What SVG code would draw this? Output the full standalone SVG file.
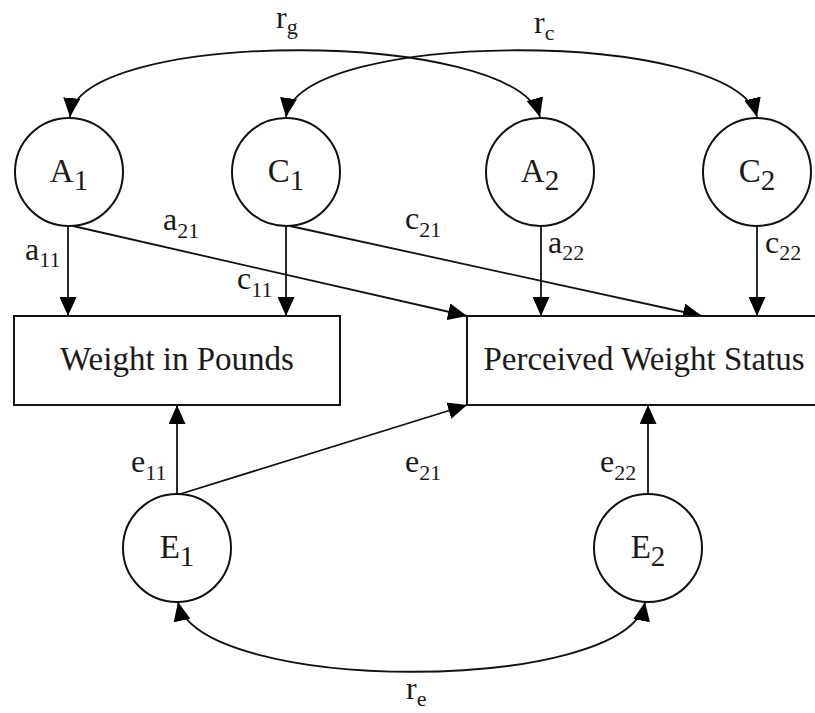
<svg xmlns="http://www.w3.org/2000/svg" width="815" height="713" viewBox="0 0 815 713">
<style>
  .n { fill: #fff; stroke: #111; stroke-width: 2; }
  .c { fill: none; stroke: #111; stroke-width: 1.8; }
  .t { font-family: "Liberation Serif", "Times New Roman", serif; fill: #1a1a1a; }
  .big { font-size: 33px; }
  .lab { font-size: 32px; }
  .sub { font-size: 22px; }
  .csub { font-size: 29px; }
</style>
<defs>
  <marker id="arr" markerWidth="19" markerHeight="17" refX="19" refY="8.5" orient="auto-start-reverse" markerUnits="userSpaceOnUse">
    <path d="M0,0 L19,8.5 L0,17 z" fill="#000"/>
  </marker>
</defs>
<rect width="815" height="713" fill="#fff"/>

<g id="connectors">
  <path class="c" d="M 70 117 C 78 28, 515 28, 540 117" marker-start="url(#arr)" marker-end="url(#arr)"/>
  <path class="c" d="M 286 117 C 298 28, 735 28, 757 117" marker-start="url(#arr)" marker-end="url(#arr)"/>
  <line class="c" x1="68" y1="226" x2="68" y2="316" marker-end="url(#arr)"/>
  <line class="c" x1="286" y1="226" x2="286" y2="316" marker-end="url(#arr)"/>
  <line class="c" x1="73" y1="226" x2="467" y2="316" marker-end="url(#arr)"/>
  <line class="c" x1="290" y1="226" x2="702" y2="316" marker-end="url(#arr)"/>
  <line class="c" x1="541" y1="226" x2="541" y2="316" marker-end="url(#arr)"/>
  <line class="c" x1="757" y1="226" x2="757" y2="316" marker-end="url(#arr)"/>
  <line class="c" x1="177" y1="495" x2="177" y2="405" marker-end="url(#arr)"/>
  <line class="c" x1="177" y1="495" x2="467" y2="405" marker-end="url(#arr)"/>
  <line class="c" x1="648" y1="495" x2="648" y2="405" marker-end="url(#arr)"/>
  <path class="c" d="M 178 602 C 198 695, 628 695, 645 602" marker-start="url(#arr)" marker-end="url(#arr)"/>
</g>

<g id="labels" class="t lab">
  <text x="276" y="28">r<tspan class="sub" dy="6">g</tspan></text>
  <text x="534" y="33">r<tspan class="sub" dy="7">c</tspan></text>
  <text x="25" y="260">a<tspan class="sub" dy="7">11</tspan></text>
  <text x="163" y="230">a<tspan class="sub" dy="8">21</tspan></text>
  <text x="237" y="289">c<tspan class="sub" dy="8">11</tspan></text>
  <text x="405" y="229">c<tspan class="sub" dy="8">21</tspan></text>
  <text x="548" y="253">a<tspan class="sub" dy="7">22</tspan></text>
  <text x="765" y="253">c<tspan class="sub" dy="7">22</tspan></text>
  <text x="131" y="472">e<tspan class="sub" dy="8">11</tspan></text>
  <text x="405" y="472">e<tspan class="sub" dy="8">21</tspan></text>
  <text x="600" y="472">e<tspan class="sub" dy="8">22</tspan></text>
  <text x="406" y="699">r<tspan class="sub" dy="7">e</tspan></text>
</g>

<g id="A1"><circle class="n" cx="69" cy="172" r="54"/><text class="t big" x="69" y="182" text-anchor="middle">A<tspan class="csub" dy="8">1</tspan></text></g>
<g id="C1"><circle class="n" cx="286" cy="172" r="54"/><text class="t big" x="286" y="182" text-anchor="middle">C<tspan class="csub" dy="8">1</tspan></text></g>
<g id="A2"><circle class="n" cx="540" cy="172" r="54"/><text class="t big" x="540" y="182" text-anchor="middle">A<tspan class="csub" dy="8">2</tspan></text></g>
<g id="C2"><circle class="n" cx="757" cy="172" r="54"/><text class="t big" x="757" y="182" text-anchor="middle">C<tspan class="csub" dy="8">2</tspan></text></g>

<g id="WeightInPounds"><rect class="n" x="14" y="316" width="326" height="89"/><text class="t big" x="177" y="370" text-anchor="middle">Weight in Pounds</text></g>
<g id="PerceivedWeightStatus"><rect class="n" x="467" y="316" width="360" height="89"/><text class="t big" x="644" y="370" text-anchor="middle">Perceived Weight Status</text></g>

<g id="E1"><circle class="n" cx="177" cy="548" r="54"/><text class="t big" x="177" y="558" text-anchor="middle">E<tspan class="csub" dy="8">1</tspan></text></g>
<g id="E2"><circle class="n" cx="648" cy="548" r="54"/><text class="t big" x="648" y="558" text-anchor="middle">E<tspan class="csub" dy="8">2</tspan></text></g>
</svg>
